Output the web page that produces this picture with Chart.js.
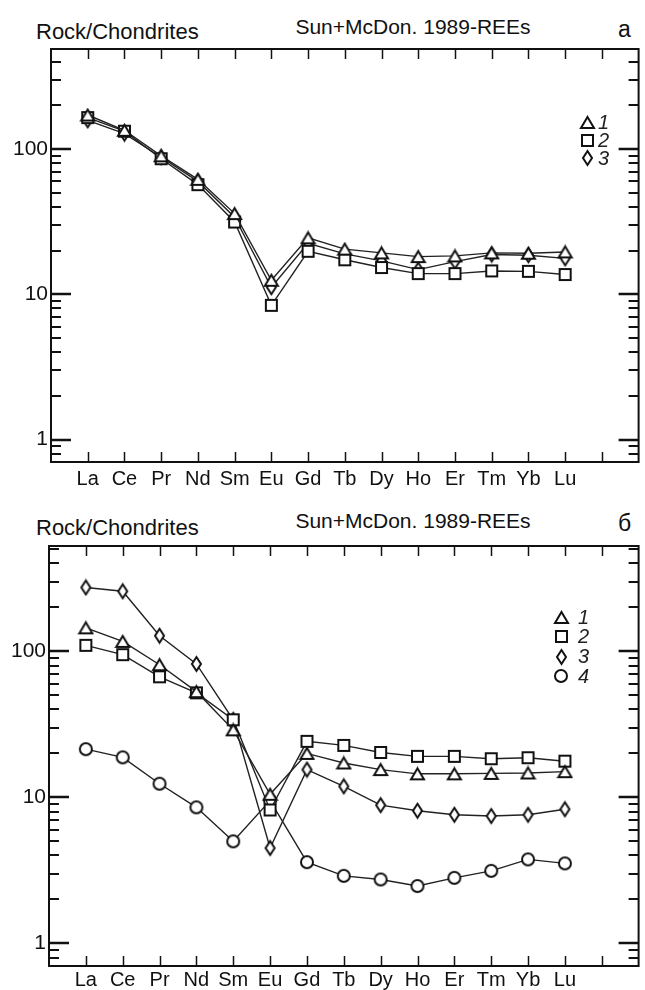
<!DOCTYPE html>
<html>
<head>
<meta charset="utf-8">
<script src="https://cdn.jsdelivr.net/npm/chart.js@4.4.1/dist/chart.umd.min.js"></script>
<style>
  body { margin: 0; background: #fff; }
  #page { position: relative; width: 645px; height: 990px; font-family: Arial, "Liberation Sans", sans-serif; color: #111; }
  canvas { position: absolute; left: 0; }
  .t { position: absolute; font-size: 21px; line-height: 22px; white-space: nowrap; }
</style>
</head>
<body>
<div id="page">
  <div class="t" style="left:36px; top:21px; font-size:22px;">Rock/Chondrites</div>
  <div class="t" style="left:413px; top:16px; transform:translateX(-50%);">Sun+McDon. 1989-REEs</div>
  <div class="t" style="left:618px; top:18px; font-size:23px;">а</div>

  <div class="t" style="left:36px; top:517px; font-size:22px;">Rock/Chondrites</div>
  <div class="t" style="left:413px; top:510px; transform:translateX(-50%);">Sun+McDon. 1989-REEs</div>
  <div class="t" style="left:618px; top:512px; font-size:23px;">б</div>

  <canvas id="chartA" width="645" height="495" style="top:0"></canvas>
  <canvas id="chartB" width="645" height="495" style="top:495px"></canvas>
</div>
<script>
// rare earth elements on the x axis
const elements = ['La', 'Ce', 'Pr', 'Nd', 'Sm', 'Eu', 'Gd', 'Tb', 'Dy', 'Ho', 'Er', 'Tm', 'Yb', 'Lu'];
const yLabels = [1, 10, 100];

// panel а
const a1 = [172, 135, 90, 62, 36, 12.5, 24.5, 20.5, 19.3, 18.2, 18.4, 19.3, 19.2, 19.6];
const a2 = [165, 133, 86, 57, 31.5, 8.4, 19.8, 17.3, 15.3, 13.9, 13.9, 14.5, 14.4, 13.7];
const a3 = [158, 128, 88, 60, 34, 11.2, 22.5, 19, 17, 14.8, 16.8, 18.8, 18.6, 17.7];

// panel б
const b1 = [145, 117, 81, 53, 29, 10.5, 20, 17.2, 15.5, 14.5, 14.5, 14.6, 14.7, 15];
const b2 = [110, 95, 67, 52, 34, 8.2, 24.2, 22.7, 20.3, 19.1, 19.1, 18.4, 18.7, 17.7];
const b3 = [274, 258, 128, 82, 34, 4.5, 15.5, 11.9, 8.85, 8.1, 7.6, 7.45, 7.6, 8.3];
const b4 = [21.4, 18.8, 12.4, 8.55, 5.0, 9.5, 3.6, 2.9, 2.74, 2.47, 2.81, 3.14, 3.76, 3.53];

const legendNames = ['1', '2', '3', '4'];

function makeMarker(shape, w, h) {
  const c = document.createElement('canvas');
  c.width = w + 4;
  c.height = h + 4;
  const g = c.getContext('2d');
  g.translate(2, 2);
  g.lineWidth = 2;
  g.strokeStyle = '#111';
  g.fillStyle = '#fff';
  g.beginPath();
  if (shape === 'tri') {
    g.moveTo(w / 2, 0); g.lineTo(w, h); g.lineTo(0, h); g.closePath();
  } else if (shape === 'sq') {
    g.rect(0, 0, w, h);
  } else if (shape === 'dia') {
    g.moveTo(w / 2, 0); g.lineTo(w, h / 2); g.lineTo(w / 2, h); g.lineTo(0, h / 2); g.closePath();
  } else {
    g.ellipse(w / 2, h / 2, w / 2, h / 2, 0, 0, Math.PI * 2);
  }
  g.fill();
  g.stroke();
  return c;
}

const markers = [
  makeMarker('tri', 13, 11),
  makeMarker('sq', 11, 11),
  makeMarker('dia', 9, 14),
  makeMarker('circle', 12, 12)
];

// frame, inside ticks and legend
const reeFrame = {
  id: 'reeFrame',
  afterDraw(chart, args, opts) {
    const { ctx, chartArea: a, scales: { x, y } } = chart;
    ctx.save();
    ctx.strokeStyle = '#111';

    ctx.lineWidth = 1.5;
    for (let i = 1; i < 16; i++) {
      const px = Math.round(x.getPixelForValue(i)) + 0.5;
      ctx.beginPath();
      ctx.moveTo(px, a.bottom); ctx.lineTo(px, a.bottom - 10);
      ctx.moveTo(px, a.top); ctx.lineTo(px, a.top + 10);
      ctx.stroke();
    }

    [0.1, 1, 10, 100].forEach(d => {
      for (let k = 1; k <= 9; k++) {
        const v = k * d;
        if (v <= y.min || v >= y.max) continue;
        const py = Math.round(y.getPixelForValue(v));
        const len = k === 1 ? 20 : 10;
        ctx.lineWidth = k === 1 ? 2.5 : 2;
        ctx.beginPath();
        ctx.moveTo(a.left, py); ctx.lineTo(a.left + len, py);
        ctx.moveTo(a.right, py); ctx.lineTo(a.right - len, py);
        ctx.stroke();
      }
    });

    ctx.lineWidth = 2;
    ctx.strokeRect(a.left, a.top, a.right - a.left, a.bottom - a.top);

    ctx.font = 'italic 20px Arial, "Liberation Sans", sans-serif';
    ctx.fillStyle = '#222';
    ctx.textBaseline = 'middle';
    for (let i = 0; i < opts.count; i++) {
      const m = markers[i];
      const cy = opts.y + i * opts.step;
      ctx.drawImage(m, Math.round(opts.x - m.width / 2), Math.round(cy - m.height / 2));
      ctx.fillText(legendNames[i], opts.x + opts.gap, cy + 1);
    }
    ctx.restore();
  }
};

function makeChart(id, series, yMin, yMax, pad, bottom, left, labelPad, legend) {
  const H = 495;
  new Chart(document.getElementById(id), {
    type: 'line',
    data: {
      datasets: series.map((vals, i) => ({
        data: vals.map((v, j) => ({ x: j + 1, y: v })),
        pointStyle: markers[i],
        pointRadius: 5,
        borderColor: '#222',
        borderWidth: 1.4,
        tension: 0
      }))
    },
    options: {
      responsive: false,
      animation: false,
      devicePixelRatio: 1,
      layout: { padding: { top: pad, right: 2, left: 0, bottom: 0 } },
      plugins: { legend: { display: false }, tooltip: { enabled: false }, reeFrame: legend },
      scales: {
        x: {
          type: 'linear',
          min: 0,
          max: 16,
          grid: { display: false, drawTicks: false },
          border: { display: false },
          afterFit: s => { s.height = H - bottom; },
          ticks: {
            stepSize: 1,
            autoSkip: false,
            maxRotation: 0,
            padding: labelPad,
            color: '#111',
            font: { family: 'Arial, "Liberation Sans", sans-serif', size: 20 },
            callback: v => elements[v - 1] || ''
          }
        },
        y: {
          type: 'logarithmic',
          min: yMin,
          max: yMax,
          grid: { display: false, drawTicks: false },
          border: { display: false },
          afterFit: s => { s.width = left; },
          afterBuildTicks: s => { s.ticks = yLabels.map(v => ({ value: v })); },
          ticks: {
            padding: 3,
            color: '#111',
            font: { family: 'Arial, "Liberation Sans", sans-serif', size: 21 },
            callback: v => String(v)
          }
        }
      }
    },
    plugins: [reeFrame]
  });
}

makeChart('chartA', [a1, a2, a3], 0.71, 490, 49, 462, 51, 5,
  { count: 3, x: 587, y: 122, step: 18, gap: 11 });
makeChart('chartB', [b1, b2, b3, b4], 0.7, 527, 51, 471, 49, 2,
  { count: 4, x: 561, y: 122, step: 19.8, gap: 17 });
</script>
</body>
</html>
